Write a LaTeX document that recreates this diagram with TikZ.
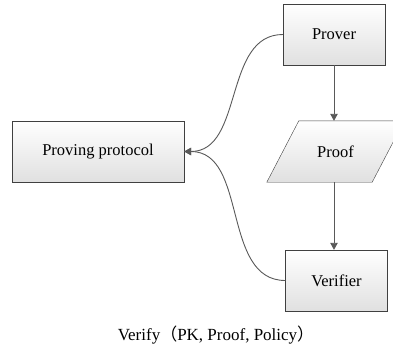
\documentclass[tikz,border=0pt]{standalone}
\usepackage{fontspec}
\setmainfont{Liberation Serif}
\newfontfamily\cjk{Noto Sans CJK SC}
\usetikzlibrary{arrows.meta,backgrounds}

\begin{document}
\begin{tikzpicture}[x=1pt,y=1pt,
	shade box/.style={draw=black!75, top color=white, bottom color=black!12},
	label text/.style={minimum width=102pt, minimum height=61pt, inner sep=0pt, font=\fontsize{16.5}{18}\selectfont},
	box/.style={shade box, label text},
	link/.style={draw=black!65, line width=0.9pt, -{Triangle[length=7pt,width=7.5pt]}}]
		\useasboundingbox (0,0) rectangle (393,349);
		\node[box] (prover) at (334,314.5) {Prover};
		\node[box, minimum width=172pt] (protocol) at (98,197.5) {Proving protocol};
		\node[label text, minimum width=105pt] (proof) at (335.5,197.5) {Proof};
		\begin{scope}[on background layer]
		\draw[shade box] ([xshift=-16pt]proof.south west) -- ([xshift=16pt]proof.north west) -- ([xshift=16pt]proof.north east) -- ([xshift=-16pt]proof.south east) -- cycle;
		\end{scope}
		\node[box] (verifier) at (336.5,68.5) {Verifier};
		\draw[link] (prover) -- (proof.north -| prover);
		\draw[link] (proof.south -| prover) -- (verifier.north -| prover);
		\draw[link] (prover.west) to[out=180,in=0] (protocol.east);
		\draw[link] (verifier.west) to[out=180,in=0] (protocol.east);
		\node (caption) at (216,14) {\fontsize{17}{19}\selectfont Verify{\cjk （}PK, Proof, Policy{\cjk ）}};
\end{tikzpicture}
\end{document}
